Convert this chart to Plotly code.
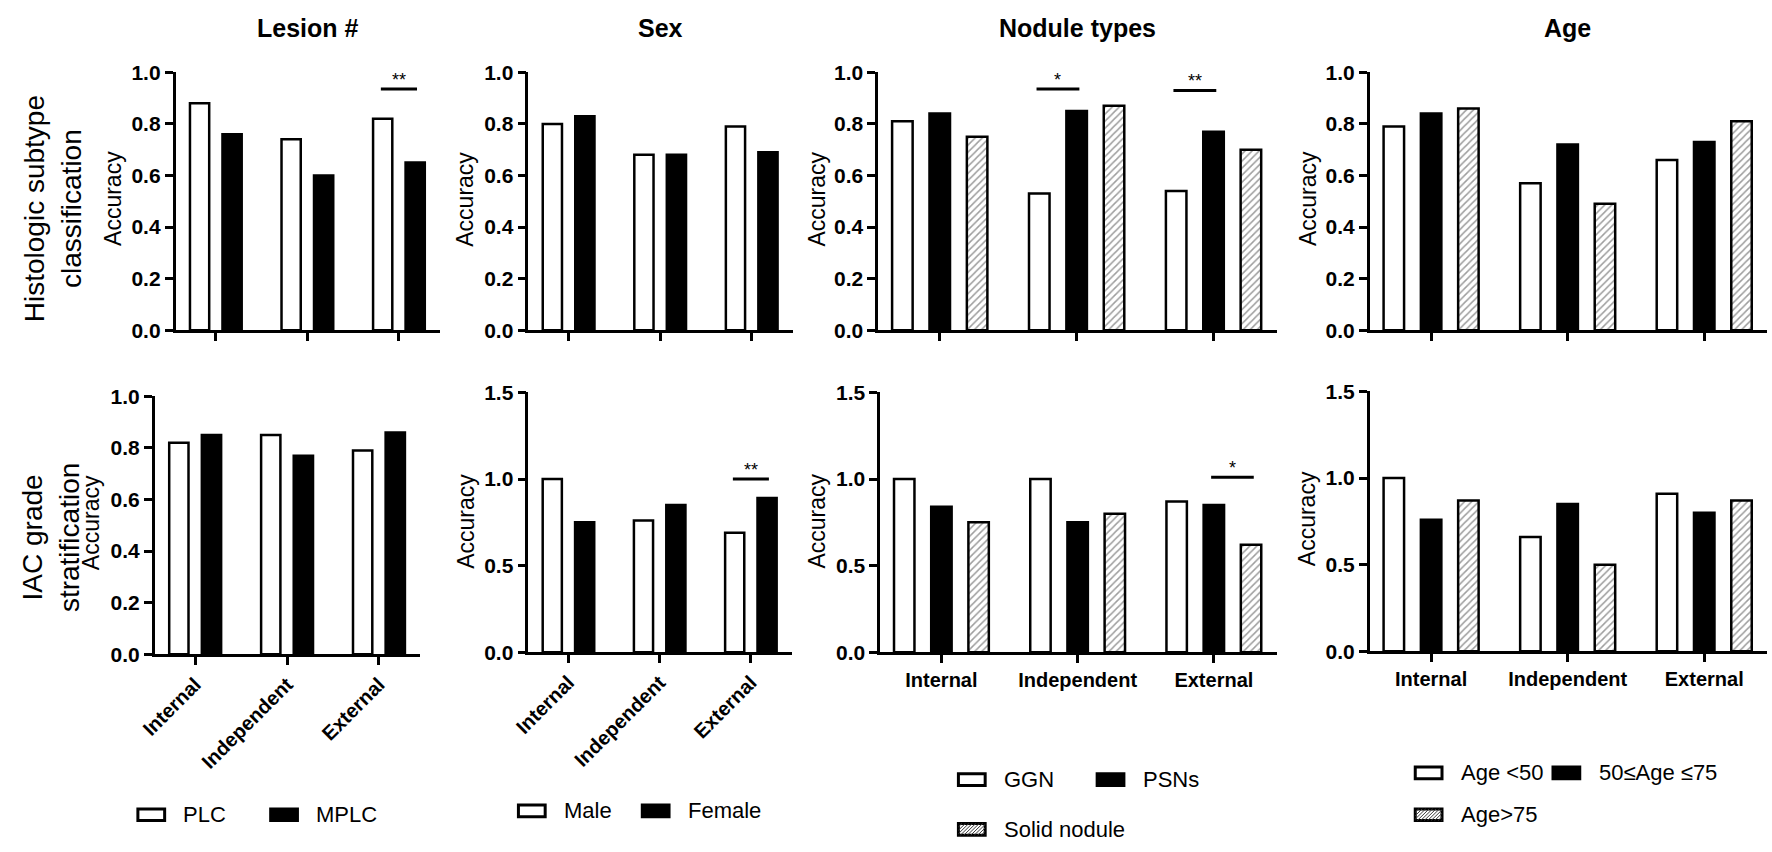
import plotly.graph_objects as go
from plotly.subplots import make_subplots

W, H = 1772, 852
FONT = "Arial, Liberation Sans, sans-serif"

categories = ["Internal", "Independent", "External"]

lesion_groups = ["PLC", "MPLC"]
sex_groups = ["Male", "Female"]
nodule_groups = ["GGN", "PSNs", "Solid nodule"]
age_groups = ["Age <50", "50≤Age ≤75", "Age>75"]

panel_titles = ["Lesion #", "Sex", "Nodule types", "Age"]
row_titles = ["Histologic subtype<br>classification", "IAC grade<br>stratification"]

# Histologic subtype classification (top row)
hist_lesion_plc = [0.88, 0.74, 0.82]
hist_lesion_mplc = [0.76, 0.60, 0.65]
hist_sex_male = [0.80, 0.68, 0.79]
hist_sex_female = [0.83, 0.68, 0.69]
hist_nodule_ggn = [0.81, 0.53, 0.54]
hist_nodule_psn = [0.84, 0.85, 0.77]
hist_nodule_solid = [0.75, 0.87, 0.70]
hist_age_lt50 = [0.79, 0.57, 0.66]
hist_age_mid = [0.84, 0.72, 0.73]
hist_age_gt75 = [0.86, 0.49, 0.81]

# IAC grade stratification (bottom row)
iac_lesion_plc = [0.82, 0.85, 0.79]
iac_lesion_mplc = [0.85, 0.77, 0.86]
iac_sex_male = [1.00, 0.76, 0.69]
iac_sex_female = [0.75, 0.85, 0.89]
iac_nodule_ggn = [1.00, 1.00, 0.87]
iac_nodule_psn = [0.84, 0.75, 0.85]
iac_nodule_solid = [0.75, 0.80, 0.62]
iac_age_lt50 = [1.00, 0.66, 0.91]
iac_age_mid = [0.76, 0.85, 0.80]
iac_age_gt75 = [0.87, 0.50, 0.87]

# significance bars: (row, col, category, group a, group b, height, label)
significance = [
    (1, 1, "External", 0, 1, 0.935, "**"),
    (1, 3, "Independent", 0, 1, 0.935, "*"),
    (1, 3, "External", 0, 1, 0.93, "**"),
    (2, 2, "External", 0, 1, 1.00, "**"),
    (2, 3, "External", 1, 2, 1.01, "*"),
]

panels = [
    (1, 1, lesion_groups, [hist_lesion_plc, hist_lesion_mplc]),
    (1, 2, sex_groups, [hist_sex_male, hist_sex_female]),
    (1, 3, nodule_groups, [hist_nodule_ggn, hist_nodule_psn, hist_nodule_solid]),
    (1, 4, age_groups, [hist_age_lt50, hist_age_mid, hist_age_gt75]),
    (2, 1, lesion_groups, [iac_lesion_plc, iac_lesion_mplc]),
    (2, 2, sex_groups, [iac_sex_male, iac_sex_female]),
    (2, 3, nodule_groups, [iac_nodule_ggn, iac_nodule_psn, iac_nodule_solid]),
    (2, 4, age_groups, [iac_age_lt50, iac_age_mid, iac_age_gt75]),
]

# layout geometry in pixels
x_px = {
    (1, 1): (161, 428), (1, 2): (517, 784), (1, 3): (870, 1272), (1, 4): (1366, 1767),
    (2, 1): (140, 408), (2, 2): (517, 783), (2, 3): (872, 1272), (2, 4): (1366, 1767),
}
y_px = {
    (1, 1): (62, 327), (1, 2): (62, 327), (1, 3): (62, 327), (1, 4): (62, 327),
    (2, 1): (395, 660), (2, 2): (391, 658), (2, 3): (391, 658), (2, 4): (390, 657),
}
accuracy_px = {
    (1, 1): (98, 192), (1, 2): (453, 192), (1, 3): (808, 192), (1, 4): (1304, 192),
    (2, 1): (76, 525), (2, 2): (454, 523), (2, 3): (808, 523), (2, 4): (1303, 521),
}
legend_px = {
    1: [(123, 825), (257, 825)],
    2: [(507, 821), (632, 821)],
    3: [(951, 789), (1091, 789), (951, 840)],
    4: [(1412, 782), (1551, 782), (1412, 825)],
}
title_x_px = [295, 650, 1071, 1566]
row_title_px = [(37, 202), (35, 540)]

LINE_W = 2.5
HATCH = "#3c3c3c"


def px_x(x):
    return x / W


def px_y(y):
    return 1 - y / H


def bar_geometry(n):
    """Slot spacing and bar width (category units) for n bars per group."""
    if n == 2:
        return 0.355, 0.21
    return 0.273, 0.15


def bar_center(n, i):
    slot, _ = bar_geometry(n)
    return (i - (n - 1) / 2) * slot


def bar_marker(i):
    if i == 0:
        return dict(color="white", line=dict(color="black", width=LINE_W))
    if i == 1:
        return dict(color="black", line=dict(color="black", width=LINE_W))
    return dict(color="white", line=dict(color="black", width=LINE_W),
                pattern=dict(shape="/", fgcolor=HATCH, bgcolor="white", size=5, solidity=0.3))


def hatch_lines(x0, y0, x1, y1, step=3.5):
    """Diagonal segments clipped to a pixel box, for the legend swatch."""
    h = y1 - y0
    segs = []
    u = x0 - h
    while u < x1:
        t0 = max(0, (x0 - u) / h)
        t1 = min(1, (x1 - u) / h)
        if t1 > t0:
            segs.append((u + t0 * h, y1 - t0 * h, u + t1 * h, y1 - t1 * h))
        u += step
    return segs


fig = make_subplots(rows=2, cols=4)

for row, col, groups, series in panels:
    n = len(groups)
    slot, width = bar_geometry(n)
    for i, vals in enumerate(series):
        fig.add_trace(go.Bar(
            x=categories, y=vals, name=groups[i],
            width=width, offset=bar_center(n, i) - width / 2,
            marker=bar_marker(i), showlegend=False,
        ), row=row, col=col)

    xr = [-0.44, 2.45] if n == 2 else [-0.45, 2.46]
    fig.update_xaxes(
        domain=[px_x(x_px[(row, col)][0]), px_x(x_px[(row, col)][1])],
        type="category", categoryorder="array", categoryarray=categories, range=xr,
        showline=True, linecolor="black", linewidth=LINE_W, showgrid=False, zeroline=False,
        ticks="outside", ticklen=8, tickwidth=LINE_W, tickcolor="black",
        showticklabels=(row == 2), tickangle=(-45 if col <= 2 else 0),
        tickfont=dict(family=FONT, size=20, color="black", weight="bold"),
        row=row, col=col,
    )
    tall = row == 2 and col > 1
    fig.update_yaxes(
        domain=[px_y(y_px[(row, col)][1]), px_y(y_px[(row, col)][0])],
        range=[0, 1.5] if tall else [0, 1.0], tick0=0, dtick=0.5 if tall else 0.2,
        tickformat=".1f",
        showline=True, linecolor="black", linewidth=LINE_W, showgrid=False, zeroline=False,
        ticks="outside", ticklen=8, tickwidth=LINE_W, tickcolor="black",
        tickfont=dict(family=FONT, size=21, color="black", weight="bold"),
        row=row, col=col,
    )
    ax, ay = accuracy_px[(row, col)]
    fig.add_annotation(x=px_x(ax), y=px_y(ay), xref="paper", yref="paper",
                       xanchor="center", yanchor="middle",
                       text="Accuracy", textangle=-90, showarrow=False,
                       font=dict(family=FONT, size=23, color="black"))

# significance markers
for row, col, cat, a, b, height, label in significance:
    k = (row - 1) * 4 + col
    ref = "" if k == 1 else str(k)
    n = len([p for p in panels if p[0] == row and p[1] == col][0][2])
    c = categories.index(cat)
    x0 = c + bar_center(n, a) - 0.02
    x1 = c + bar_center(n, b) + 0.02
    fig.add_shape(type="line", xref="x" + ref, yref="y" + ref,
                  x0=x0, x1=x1, y0=height, y1=height,
                  line=dict(color="black", width=3))
    fig.add_annotation(x=(x0 + x1) / 2, y=height, xref="x" + ref, yref="y" + ref,
                       text=label, showarrow=False, xanchor="center",
                       yanchor="bottom", yshift=-3,
                       font=dict(family=FONT, size=18, color="black"))

# column titles
for title, tx in zip(panel_titles, title_x_px):
    fig.add_annotation(x=px_x(tx), y=px_y(16), xref="paper", yref="paper",
                       xanchor="center", yanchor="middle",
                       text=title, showarrow=False,
                       font=dict(family=FONT, size=25, color="black", weight="bold"))

# row titles
for title, (rx, ry) in zip(row_titles, row_title_px):
    fig.add_annotation(x=px_x(rx), y=px_y(ry), xref="paper", yref="paper",
                       xanchor="center", yanchor="middle",
                       text=title, textangle=-90, showarrow=False,
                       font=dict(family=FONT, size=28, color="black"))

# legends drawn under each column
legend_groups = {1: lesion_groups, 2: sex_groups, 3: nodule_groups, 4: age_groups}
for col, spots in legend_px.items():
    for i, (bx, by) in enumerate(spots):
        x0, x1, y0, y1 = bx, bx + 27, by - 6, by + 6
        fill = "black" if i == 1 else "white"
        fig.add_shape(type="rect", xref="paper", yref="paper",
                      x0=px_x(x0), x1=px_x(x1), y0=px_y(y1), y1=px_y(y0),
                      fillcolor=fill, line=dict(color="black", width=3), layer="above")
        if i == 2:
            for sx0, sy0, sx1, sy1 in hatch_lines(x0, y0, x1, y1):
                fig.add_shape(type="line", xref="paper", yref="paper",
                              x0=px_x(sx0), y0=px_y(sy0), x1=px_x(sx1), y1=px_y(sy1),
                              line=dict(color=HATCH, width=1))
        fig.add_annotation(x=px_x(bx + 44), y=px_y(by), xref="paper", yref="paper",
                           text=legend_groups[col][i], showarrow=False,
                           xanchor="left", yanchor="middle",
                           font=dict(family=FONT, size=22, color="black"))

fig.update_layout(
    width=W, height=H,
    margin=dict(l=0, r=0, t=0, b=0),
    plot_bgcolor="white", paper_bgcolor="white",
    barmode="group", showlegend=False,
    font=dict(family=FONT, color="black"),
)

fig.write_html("out.html", config={"displayModeBar": False},
               post_script="document.body.style.margin='0';")
